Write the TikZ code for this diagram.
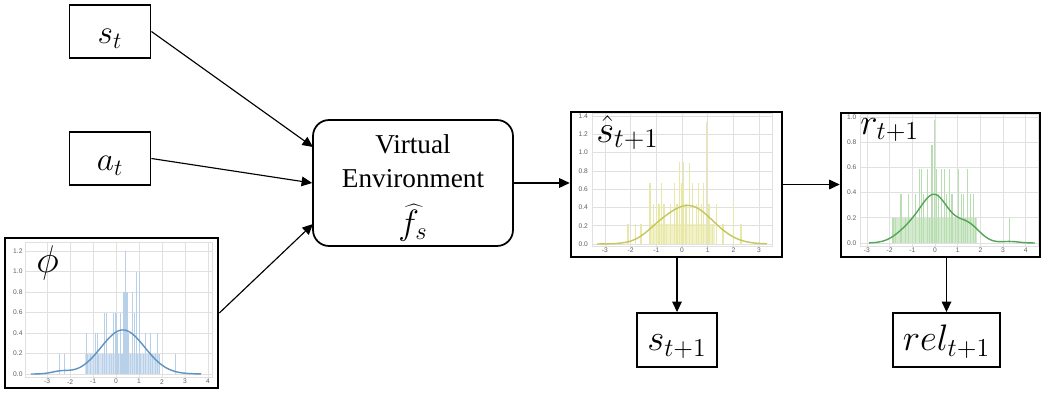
\RequirePackage{fix-cm}
\documentclass[tikz,border=0pt]{standalone}
\usepackage{fontspec}
\setmainfont{Liberation Serif}
\setsansfont{Liberation Sans}
\newfontfamily\vefont{Liberation Serif}
\usetikzlibrary{arrows.meta,calc}
\definecolor{gridc}{HTML}{E0E0E0}
\definecolor{phibar}{HTML}{B8D0E8}
\definecolor{phicur}{HTML}{5E93C4}
\definecolor{shbar}{HTML}{E8E8A8}
\definecolor{shcur}{HTML}{C6C65C}
\definecolor{rbar}{HTML}{B8DDB0}
\definecolor{rcur}{HTML}{55A558}
\definecolor{tickc}{HTML}{606060}
\begin{document}
\begin{tikzpicture}[x=0.02cm,y=-0.02cm,
  lbox/.style={draw, line width=1.1pt, inner sep=0pt, fill=white, text height=15pt, text depth=0.8pt},
  hbox/.style={draw, line width=1.5pt, inner sep=0pt, fill=white},
  arr/.style={-{Triangle[length=6pt,width=5.5pt]}, line width=0.65pt},
  tick/.style={font=\sffamily\fontsize{3.8}{4}\selectfont, text=tickc, inner sep=0pt},
  grd/.style={draw=gridc, line width=0.45pt},
  hlab/.style={inner sep=0pt, anchor=base west},
  vetxt/.style={inner sep=0pt, anchor=base, font=\vefont\fontsize{15.5}{18}\selectfont},
]
\useasboundingbox (0,0) rectangle (1044,392);

% ---------- input boxes ----------
\node[lbox, minimum width=1.62cm, minimum height=1.06cm, font=\fontsize{19}{21}\selectfont] (st) at (110,31.5) {$s_t$};
\node[lbox, minimum width=1.62cm, minimum height=1.06cm, font=\fontsize{19}{21}\selectfont] (at) at (110,158.5) {$a_t$};

% ---------- phi histogram ----------
\node[hbox, minimum width=4.26cm, minimum height=3.0cm] (phi) at (111.5,313) {};
\begin{scope}[shift={(116,374)}, x=0.46cm, y=2.05cm]
  \draw[grd] (-3.96,-0.03) rectangle (4.2,1.28);
  \foreach \gx in {-3,...,4} \draw[grd] (\gx,-0.03) -- (\gx,1.28);
  \foreach \gy in {0,0.2,0.4,0.6,0.8,1.0,1.2} \draw[grd] (-3.96,\gy) -- (4.2,\gy);
  \foreach \gy/\lab [count=\k] in {0/0.0,0.2/0.2,0.4/0.4,0.6/0.6,0.8/0.8,1.0/1.0,1.2/1.2}
    \node[tick, anchor=east] (phy\k) at (-4.05,\gy) {\lab};
  \foreach \gx [count=\k] in {-3,...,4}
    \node[tick] (phx\k) at (\gx,-0.075) {\gx};
  \fill[phibar, opacity=0.6] (-1.35,0) rectangle (1.92,0.2);
  \foreach \bx/\bh in {-2.45/0.2,-2.25/0.2,-1.3/0.4,-1.25/0.2,-1.1/0.2,-0.9/0.4,-0.82/0.4,-0.75/0.2,-0.6/0.2,-0.5/0.6,-0.4/0.6,-0.3/0.2,-0.2/0.2,-0.1/0.6,0.0/0.6,0.05/0.4,0.12/0.2,0.2/0.6,0.26/0.2,0.35/0.8,0.42/1.2,0.48/0.8,0.55/0.4,0.62/0.2,0.7/0.8,0.8/0.6,0.9/1.0,0.95/0.2,1.02/1.0,1.08/0.2,1.2/0.2,1.3/0.4,1.4/0.2,1.5/0.4,1.6/0.2,1.7/0.2,1.8/0.4,1.9/0.2,2.6/0.2}
    \fill[phibar] (\bx-0.025,0) rectangle (\bx+0.025,\bh);
  \draw[phicur, line width=0.8pt] plot[domain=-3.7:3.7, samples=90, smooth] (\x,{0.43*exp(-((\x-0.3)^2)/(2*0.95^2))+0.025*exp(-min(((\x+2.4)^2)/0.3,9))});
\end{scope}
\node[hlab, font=\fontsize{22}{24}\selectfont] (philab) at (36,272) {$\phi$};

% ---------- virtual environment ----------
\node[draw, line width=1pt, rounded corners=0.32cm, minimum width=4cm, minimum height=2.52cm, inner sep=0pt] (ve) at (413,183) {};
\node[vetxt] (ve1) at (413,153) {Virtual};
\node[vetxt] (ve2) at (413,187) {Environment};
\node[vetxt, font=\fontsize{20}{22}\selectfont] (ve3) at (413,234) {$\widehat{f}_s$};

% ---------- s hat histogram ----------
\node[hbox, minimum width=4.22cm, minimum height=2.9cm] (sh) at (676.5,184.5) {};
\begin{scope}[shift={(682,244)}, x=0.514cm, y=1.828cm]
  \draw[grd] (-3.5,-0.03) rectangle (3.5,1.43);
  \foreach \gx in {-3,...,3} \draw[grd] (\gx,-0.03) -- (\gx,1.43);
  \foreach \gy in {0,0.2,0.4,0.6,0.8,1.0,1.2,1.4} \draw[grd] (-3.5,\gy) -- (3.5,\gy);
  \foreach \gy/\lab [count=\k] in {0/0.0,0.2/0.2,0.4/0.4,0.6/0.6,0.8/0.8,1.0/1.0,1.2/1.2,1.4/1.4}
    \node[tick, anchor=east] (shy\k) at (-3.65,\gy) {\lab};
  \foreach \gx [count=\k] in {-3,...,3}
    \node[tick] (shx\k) at (\gx,-0.07) {\gx};
  \fill[shbar, opacity=0.6] (-1.3,0) rectangle (1.3,0.22);
  \foreach \bx/\bh in {-2.1/0.22,-1.8/0.22,-1.6/0.22,-1.25/0.67,-1.1/0.44,-1.0/0.44,-0.9/0.44,-0.8/0.67,-0.7/0.44,-0.6/0.22,-0.45/0.44,-0.3/0.67,-0.2/0.44,-0.1/0.9,0.0/0.67,0.05/0.9,0.15/0.44,0.3/0.89,0.4/0.67,0.55/0.44,0.65/0.67,0.75/0.44,0.85/0.67,0.95/1.33,1.05/0.44,1.2/0.22,1.35/0.44,1.6/0.22,2.0/0.44,2.3/0.22}
    \fill[shbar] (\bx-0.025,0) rectangle (\bx+0.025,\bh);
  \draw[shcur, line width=0.8pt] plot[domain=-3.3:3.3, samples=90, smooth] (\x,{0.42*exp(-((\x-0.25)^2)/(2*0.95^2))+0.05*exp(-((\x+1)^2)/0.5)});
\end{scope}
\node[hlab, font=\fontsize{22}{24}\selectfont] (shlab) at (596,142) {$\hat{s}_{t+1}$};

% ---------- r histogram ----------
\node[hbox, minimum width=3.98cm, minimum height=2.88cm] (r) at (940.5,185) {};
\begin{scope}[shift={(935,243)}, x=0.454cm, y=2.52cm]
  \draw[grd] (-3.3,-0.03) rectangle (4.55,1.02);
  \foreach \gx in {-3,...,4} \draw[grd] (\gx,-0.03) -- (\gx,1.02);
  \foreach \gy in {0,0.2,0.4,0.6,0.8,1.0} \draw[grd] (-3.3,\gy) -- (4.55,\gy);
  \foreach \gy/\lab [count=\k] in {0/0.0,0.2/0.2,0.4/0.4,0.6/0.6,0.8/0.8,1.0/1.0}
    \node[tick, anchor=east] (ry\k) at (-3.45,\gy) {\lab};
  \foreach \gx [count=\k] in {-3,...,4}
    \node[tick] (rx\k) at (\gx,-0.055) {\gx};
  \fill[rbar, opacity=0.6] (-1.85,0) rectangle (1.85,0.2);
  \foreach \bx/\bh in {-1.85/0.2,-1.75/0.2,-1.5/0.39,-1.3/0.2,-1.15/0.39,-0.85/0.39,-0.7/0.59,-0.6/0.59,-0.5/0.39,-0.35/0.59,-0.25/0.2,-0.15/0.78,-0.1/0.78,-0.04/0.98,0.05/0.59,0.15/0.39,0.3/0.59,0.4/0.59,0.5/0.39,0.65/0.59,0.75/0.39,0.9/0.2,1.05/0.59,1.15/0.39,1.25/0.39,1.35/0.2,1.45/0.59,1.55/0.39,1.7/0.39,1.8/0.2,3.3/0.2}
    \fill[rbar] (\bx-0.025,0) rectangle (\bx+0.025,\bh);
  \draw[rcur, line width=0.8pt] plot[domain=-2.9:4.4, samples=100, smooth] (\x,{0.36*exp(-((\x)^2)/0.72)+0.11*exp(-((\x+1.1)^2)/0.72)+0.15*exp(-((\x-1.4)^2)/0.605)+0.012*exp(-min(((\x-3.3)^2)/0.3,9))});
\end{scope}
\node[hlab, font=\fontsize{21}{23}\selectfont] (rlab) at (860,134) {$r_{t+1}$};

% ---------- output boxes ----------
\node[lbox, minimum width=1.6cm, minimum height=1.08cm, font=\fontsize{21}{23}\selectfont, text height=13pt] (s1) at (677,340) {$s_{t+1}$};
\node[lbox, minimum width=2.14cm, minimum height=1.08cm, font=\fontsize{21}{23}\selectfont, text height=13pt] (rel) at (946.5,340) {$rel_{t+1}$};

% ---------- connectors ----------
\coordinate (in1) at (313,147);
\coordinate (in3) at (313,224);
\draw[arr] (st.east) -- (in1);
\draw[arr] (at.east) -- (ve.west);
\draw[arr] (phi.east) -- (in3);
\draw[arr] (ve.east) -- (ve.east -| sh.west);
\draw[arr] (sh.east) -- (sh.east -| r.west);
\draw[arr] (s1.north |- sh.south) -- (s1.north);
\draw[arr] (rel.north |- r.south) -- (rel.north);
\end{tikzpicture}
\end{document}
